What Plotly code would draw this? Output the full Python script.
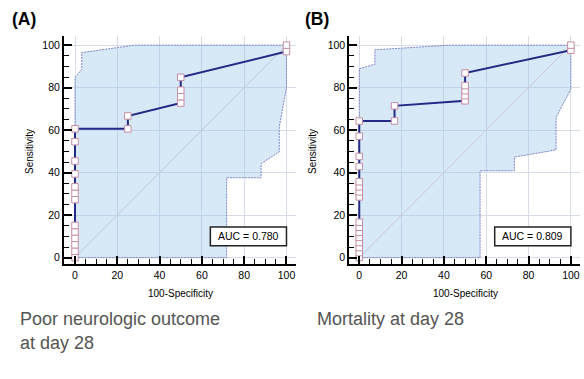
import plotly.graph_objects as go

# ---- data ----
roc_a_fpr = [0, 0, 0, 0, 0, 0, 0, 0, 0, 0, 0, 0, 0, 25, 25, 50, 50, 50, 50, 100, 100]
roc_a_sens = [0, 3.03, 6.06, 9.09, 12.12, 15.15, 27.27, 30.30, 33.33, 39.39, 45.45,
              54.55, 60.61, 60.61, 66.67, 72.73, 75.76, 78.79, 84.85, 96.97, 100]

roc_b_fpr = [0] * 16 + [16.67, 16.67, 50, 50, 50, 50, 50, 100, 100]
roc_b_sens = [0, 2.38, 4.76, 7.14, 9.52, 11.90, 14.29, 16.67, 28.57, 30.95, 33.33,
              35.71, 42.86, 47.62, 57.14, 64.29, 64.29, 71.43, 73.81, 76.19, 78.57,
              80.95, 86.90, 97.62, 100]

ci_a_x = [0, 0, 3.2, 3.2, 28.4, 100, 100, 96.6, 96.6, 88, 88, 71.7, 71.7, 0]
ci_a_y = [0, 84.7, 88.7, 96.5, 100, 100, 80, 61.5, 49.8, 44.2, 37.6, 37.6, 0, 0]

ci_b_x = [0, 0, 7.4, 7.4, 42.9, 100, 100, 93, 93, 73.3, 73.3, 57.1, 57.1, 0]
ci_b_y = [0, 88.9, 91, 97.8, 100, 100, 79.3, 66, 50.7, 47.3, 40.9, 40.9, 0, 0]

diag = [0, 100]
auc_a = "AUC = 0.780"
auc_b = "AUC = 0.809"
panel_labels = ["(A)", "(B)"]
captions = ["Poor neurologic outcome", "at day 28", "Mortality at day 28"]
x_title = "100-Specificity"
y_title = "Sensitivity"

W, H = 584, 379
FONT = "Liberation Sans, Arial, sans-serif"

fig = go.Figure()

def add_panel(xa, ya, cix, ciy, fpr, sens):
    fig.add_trace(go.Scatter(x=cix, y=ciy, xaxis=xa, yaxis=ya, mode="lines", fill="toself",
                             fillcolor="rgba(160,200,236,0.42)",
                             line=dict(color="#7d84c6", width=1, dash="2px,1px"),
                             hoverinfo="skip", showlegend=False))
    fig.add_trace(go.Scatter(x=diag, y=diag, xaxis=xa, yaxis=ya, mode="lines",
                             line=dict(color="#c9c4dc", width=1),
                             hoverinfo="skip", showlegend=False))
    fig.add_trace(go.Scatter(x=fpr, y=sens, xaxis=xa, yaxis=ya, mode="lines+markers",
                             line=dict(color="#232a86", width=2),
                             marker=dict(symbol="square", size=6.5, color="white",
                                         line=dict(color="#c48ea4", width=1)),
                             showlegend=False))

add_panel("x", "y", ci_a_x, ci_a_y, roc_a_fpr, roc_a_sens)
add_panel("x2", "y2", ci_b_x, ci_b_y, roc_b_fpr, roc_b_sens)

def ax(domain, rng, anchor):
    return dict(domain=domain, range=rng, anchor=anchor, showline=True, linecolor="black",
                linewidth=2, ticks="inside", ticklen=8, tickwidth=1.5, tickcolor="black",
                tick0=0, dtick=20, showgrid=True, gridcolor="#d6dde8", gridwidth=1,
                zeroline=False, tickfont=dict(family=FONT, size=10.5, color="black"),
                minor=dict(ticks="inside", ticklen=5, tickwidth=1.2, tickcolor="black",
                           dtick=5, tick0=0, showgrid=False),
                mirror=False)

ydom = [1 - 264 / H, 1 - 36 / H]
fig.update_layout(
    width=W, height=H, margin=dict(l=0, r=0, t=0, b=0),
    paper_bgcolor="white", plot_bgcolor="white",
    xaxis=ax([64 / W, 296 / W], [-5.2, 104.5], "y"),
    yaxis=ax(ydom, [-3, 104.3], "x"),
    xaxis2=ax([349.3 / W, 580 / W], [-4.7, 104.3], "y2"),
    yaxis2=ax(ydom, [-3, 104.3], "x2"),
)

# AUC boxes
for xr, yr, txt in [("x", "y", auc_a), ("x2", "y2", auc_b)]:
    fig.add_shape(type="rect", xref=xr, yref=yr, x0=64, x1=100, y0=5.6, y1=14.4,
                  fillcolor="white", line=dict(color="#222", width=1.5))
    fig.add_annotation(xref=xr, yref=yr, x=82, y=10, text=txt, showarrow=False,
                       font=dict(family=FONT, size=10.5, color="black"))

ann = []
# panel labels
ann.append(dict(x=10 / W, y=1 - 19 / H, text="<b>" + panel_labels[0] + "</b>", xanchor="left"))
ann.append(dict(x=303 / W, y=1 - 19 / H, text="<b>" + panel_labels[1] + "</b>", xanchor="left"))
for a in ann:
    a.update(xref="paper", yref="paper", yanchor="middle", showarrow=False,
             font=dict(family=FONT, size=17.5, color="black"))
for a in ann:
    fig.add_annotation(**a)

# axis titles
for cx in [180.5, 465]:
    fig.add_annotation(xref="paper", yref="paper", x=cx / W, y=1 - 293 / H, text=x_title,
                       showarrow=False, xanchor="center", yanchor="middle",
                       font=dict(family=FONT, size=10, color="black"))
for cx in [29, 312]:
    fig.add_annotation(xref="paper", yref="paper", x=cx / W, y=1 - 152 / H, text=y_title,
                       showarrow=False, textangle=-90, xanchor="center", yanchor="middle",
                       font=dict(family=FONT, size=10, color="black"))

# captions
cap_pos = [(18, 319), (18, 343), (315, 319)]
for txt, (cx, cy) in zip(captions, cap_pos):
    fig.add_annotation(xref="paper", yref="paper", x=cx / W, y=1 - cy / H, text=txt,
                       showarrow=False, xanchor="left", yanchor="middle",
                       font=dict(family=FONT, size=18, color="#555555"))

fig.write_html("out.html")
